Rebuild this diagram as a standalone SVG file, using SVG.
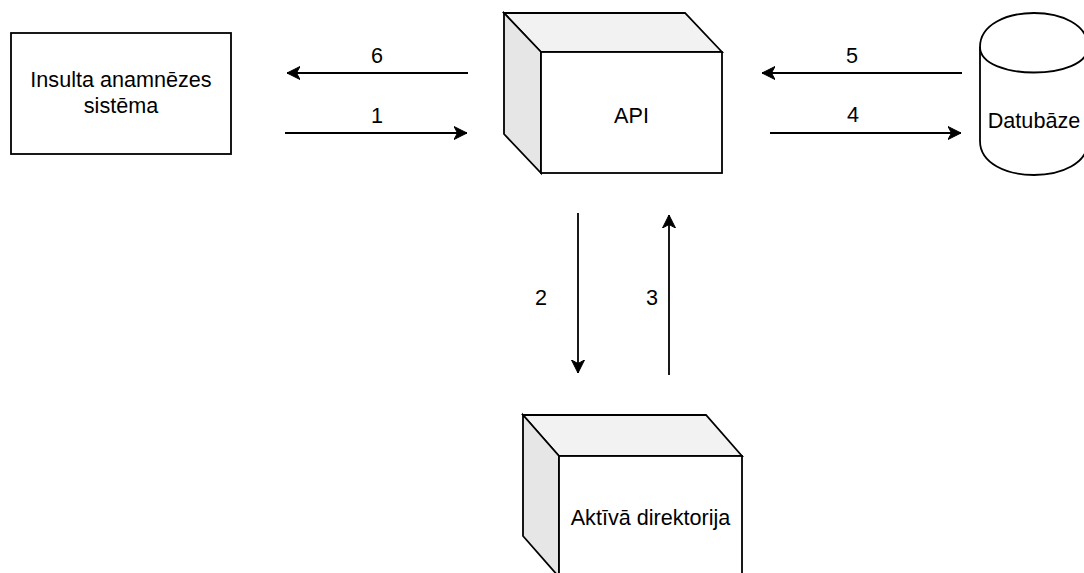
<svg xmlns="http://www.w3.org/2000/svg" width="1084" height="573" viewBox="0 0 1084 573">
  <style>
    .shape { stroke: #000; stroke-width: 1.8; stroke-linejoin: miter; }
    .front { fill: #ffffff; }
    .top { fill: #f2f2f2; }
    .side { fill: #e6e6e6; }
    .label { font-family: "Liberation Sans", Arial, Helvetica, sans-serif; font-size: 21.6px; fill: #000; text-anchor: middle; }
    .flow { fill: none; stroke: #000; stroke-width: 1.8; marker-end: url(#arrow); }
  </style>
  <defs>
    <marker id="arrow" markerUnits="userSpaceOnUse" markerWidth="14" markerHeight="14" viewBox="0 0 14 14" refX="13" refY="7" orient="auto">
      <path d="M13,7 L0,0.5 L3.5,7 L0,13.5 Z" fill="#000" stroke="#000" stroke-width="1"/>
    </marker>
  </defs>

  <rect width="1084" height="573" fill="#ffffff"/>

  <!-- Client system -->
  <g id="node-insulta">
    <rect class="shape front" x="11" y="33" width="220" height="121"/>
    <text class="label" x="121" y="87">Insulta anamnēzes</text>
    <text class="label" x="121" y="113">sistēma</text>
  </g>

  <!-- API server cube -->
  <g id="node-api">
    <path class="shape top" d="M504,13 L685,13 L722,52 L541,52 Z"/>
    <path class="shape side" d="M504,13 L541,52 L541,173 L504,134 Z"/>
    <rect class="shape front" x="541" y="52" width="181" height="121"/>
    <text class="label" x="631.5" y="122.5">API</text>
  </g>

  <!-- Database cylinder -->
  <g id="node-datubaze">
    <path class="shape front" d="M980,47 C980,1.67 1088,1.67 1088,47 L1088,141 C1088,186.3 980,186.3 980,141 Z"/>
    <path class="shape" fill="none" d="M980,47 C980,81 1088,81 1088,47"/>
    <text class="label" x="1034" y="128">Datubāze</text>
  </g>

  <!-- Directory server cube -->
  <g id="node-aktiva-direktorija">
    <path class="shape top" d="M523,415 L706,415 L742,456 L559,456 Z"/>
    <path class="shape side" d="M523,415 L559,456 L559,577 L523,536 Z"/>
    <rect class="shape front" x="559" y="456" width="183" height="130"/>
    <text class="label" x="650.5" y="525">Aktīvā direktorija</text>
  </g>

  <!-- Request / response flows -->
  <g id="connectors">
    <path class="flow" d="M468,73 L287,73"/>
    <path class="flow" d="M285,133 L467,133"/>
    <path class="flow" d="M962,73 L762,73"/>
    <path class="flow" d="M770,133 L961,133"/>
    <path class="flow" d="M578,213 L578,373"/>
    <path class="flow" d="M669,375 L669,215"/>
    <text class="label" x="377" y="63">6</text>
    <text class="label" x="377" y="123">1</text>
    <text class="label" x="852" y="63">5</text>
    <text class="label" x="853" y="122">4</text>
    <text class="label" x="541" y="305">2</text>
    <text class="label" x="652" y="305">3</text>
  </g>
</svg>
